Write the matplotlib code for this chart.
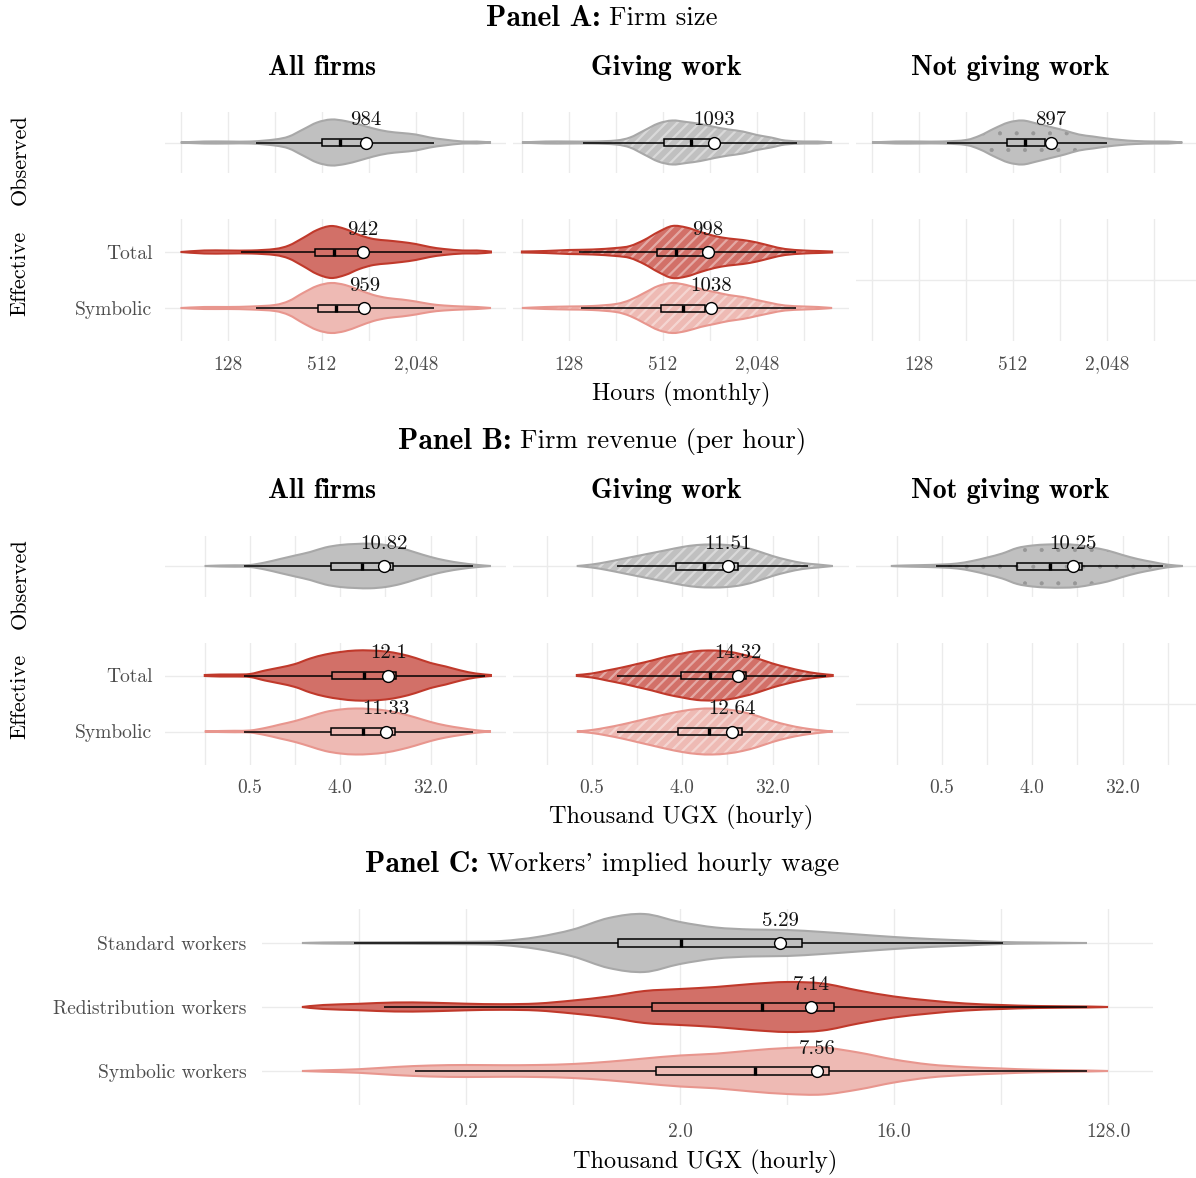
import matplotlib
matplotlib.use("Agg")
import matplotlib.pyplot as plt
import numpy as np
from matplotlib.path import Path
from matplotlib.patches import PathPatch, Rectangle
from matplotlib.ticker import NullFormatter

plt.rcParams["font.family"] = ["cmr10", "DejaVu Serif"]
plt.rcParams["mathtext.fontset"] = "cm"
plt.rcParams["axes.unicode_minus"] = False

W, H = 1196, 1178

# ---------------- data ----------------
group_names = ["All firms", "Giving work", "Not giving work"]
effective_rows = ["Total", "Symbolic"]
worker_rows = ["Standard workers", "Redistribution workers", "Symbolic workers"]

# Panel A: firm size, hours per month (density profile sampled on log2 hours)
a_grid_log2 = [6.0, 6.5, 7.0, 7.5, 8.0, 8.3, 8.6, 8.9, 9.2, 9.5, 9.8, 10.1,
               10.4, 10.7, 11.0, 11.3, 11.6, 12.0, 12.3, 12.6]
a_all_observed = [0, 1, 1, 1, 3, 6, 13, 20, 23, 21.5, 18, 14, 11, 9.5, 8, 5, 3, 1, 1, 0]
a_all_total = [0, 1.5, 1.5, 1.5, 3, 6.5, 14, 22, 26, 23, 17, 13, 11.5, 10, 8, 5, 3, 1.5, 1.5, 0.5]
a_all_symbolic = [0, 1, 1, 1.5, 3, 7, 15, 22, 25, 23, 18, 13, 10, 8.5, 6.5, 4, 2.5, 1.5, 1, 0]
a_giving_observed = [0, 1, 1, 1, 2, 5, 12, 19, 22, 20.5, 18.5, 15.5, 13, 11, 7.5, 5, 2, 1, 1, 0]
a_giving_total = [0.5, 1, 2, 2.5, 4, 6, 12, 20, 26, 24.5, 20, 16, 13.5, 12, 9.5, 6, 3, 1.5, 1, 0.5]
a_giving_symbolic = [0, 1, 1.5, 2, 4, 8, 15, 22, 25, 23, 19, 16, 13, 11, 8, 5, 2.5, 1.5, 1, 0]
a_notgiving_observed = [0, 1, 1, 1, 2.5, 7, 14, 20, 22, 19, 15.5, 12, 8, 6, 4, 2.5, 1.5, 1, 1, 0]

# box stats: lower whisker, Q1, median, Q3, upper whisker (hours)
a_box_all = [[194, 515, 671, 923, 2680], [155, 465, 614, 891, 3020], [194, 485, 630, 904, 2680]]
a_box_giving = [[157, 519, 776, 1024, 3690], [148, 468, 621, 923, 3640], [153, 498, 690, 949, 3640]]
a_box_notgiving = [[194, 468, 613, 822, 2048]]
a_mean_all = [984, 942, 959]
a_mean_giving = [1093, 998, 1038]
a_mean_notgiving = [897]
a_ticks = [128, 512, 2048]
a_minor = [64, 256, 1024, 4096]

# Panel B: firm revenue per hour, thousand UGX (log2 scale)
nan = np.nan
b_grid_log2 = [-2.7, -2.5, -2.0, -1.5, -1.0, -0.5, 0.0, 0.5, 1.0, 1.5, 2.0,
               2.5, 3.0, 3.5, 4.0, 4.5, 5.0, 5.5, 6.0, 6.5, 7.0]
b_all_observed = [nan, 0, 0.5, 0.7, 1, 3.5, 7, 10.5, 14, 18.5, 21, 22, 22.3, 21, 18, 13.5, 9, 5.5, 3, 1.2, 0]
b_all_total = [nan, 0.5, 1, 1, 1.5, 5, 8, 11.5, 17, 21, 23.5, 25, 25, 24, 21.5, 17.5, 12.5, 9, 5, 2, 0.5]
b_all_symbolic = [nan, 0, 0.5, 0.7, 1, 3.5, 7, 10.5, 15, 19.5, 22, 23, 22.5, 21, 18, 14, 9.5, 6, 3.5, 1.3, 0]
b_giving_observed = [nan, nan, nan, 0, 1.5, 4, 7, 10, 13, 16, 19, 21, 21.5, 21, 19, 15, 10, 6, 3, 1.5, 0]
b_giving_total = [nan, nan, nan, 0.5, 2, 5, 8, 11.5, 15, 19, 22, 24.5, 25, 24, 21, 17, 12, 8, 4.5, 2, 0.5]
b_giving_symbolic = [nan, nan, nan, 0, 1.5, 4, 7, 10.5, 14, 17.5, 20.5, 22.5, 23, 22, 19.5, 15.5, 10.5, 6.5, 3.5, 1.5, 0]
b_notgiving_observed = [0, 0.3, 0.7, 1, 1.5, 2.5, 5, 8.5, 12.5, 18, 20.5, 21.5, 21.7, 21, 18.5, 15.5, 11, 7, 4, 1.3, 0]

b_box_all = [[0.435, 3.23, 6.6, 13.5, 85], [0.435, 3.3, 6.9, 14.4, 112], [0.435, 3.23, 6.7, 14.1, 85]]
b_box_giving = [[0.89, 3.46, 6.6, 14.4, 72.5], [0.89, 3.9, 7.6, 17.4, 109], [0.89, 3.63, 7.4, 15.8, 77.7]]
b_box_notgiving = [[0.435, 2.8, 6.0, 12.5, 81]]
b_mean_all = [10.82, 12.1, 11.33]
b_mean_giving = [11.51, 14.32, 12.64]
b_mean_notgiving = [10.25]
b_ticks = [0.5, 4, 32]
b_minor = [0.177, 1.414, 11.31, 90.5]

# Panel C: workers' implied hourly wage, thousand UGX
c_grid_log2 = [-4.3, -4.0, -3.5, -3.0, -2.5, -2.0, -1.5, -1.0, -0.5, 0.0, 0.5, 1.0,
               1.5, 2.0, 2.5, 3.0, 3.5, 4.0, 4.5, 5.0, 5.5, 6.0, 6.7, 7.0]
c_standard = [0, 0.5, 0.7, 0.8, 1, 1.2, 2, 6, 13.5, 25, 29, 21, 15.5, 13.5, 13, 11, 8.5, 6, 4, 2.5, 1, 0.5, 0, nan]
c_redistribution = [0, 2, 3.2, 4.5, 4.3, 3.3, 2.8, 3.5, 6.5, 10.5, 16, 18, 20, 23, 25, 23.5, 16.5, 10.5, 6.5, 3.5, 2, 1, 0.5, 0]
c_symbolic = [0, 0.7, 1.8, 4, 5.5, 6, 5.8, 6, 7, 9.3, 12.5, 15.5, 17.3, 20.5, 23, 23.5, 18.5, 11.5, 6.5, 4, 2.5, 1.3, 0.5, 0]
c_box = [[0.084, 1.09, 2.02, 6.54, 46], [0.113, 1.52, 4.44, 8.94, 104], [0.152, 1.58, 4.14, 8.5, 104]]
c_mean = [5.29, 7.14, 7.56]
c_ticks = [0.25, 2, 16, 128]
c_minor = [0.0884, 0.707, 5.66, 45.25]

# ---------------- styles ----------------
FILL = {"obs": "#C0C0C0", "total": "#D27068", "symb": "#EEBAB4"}
EDGE = {"obs": "#A8A8A8", "total": "#C0392B", "symb": "#E8968E"}
GRID = "#EBEBEB"
TICK = "#4D4D4D"
TITLE_SIZE = 20
TICK_SIZE = 14
LABEL_SIZE = 17.5

fig = plt.figure(figsize=(W / 100, H / 100), dpi=100)


def px_axes(left, top, right, bottom):
    return fig.add_axes([left / W, 1 - bottom / H, (right - left) / W, (bottom - top) / H])


def smooth_curve(xs, ys):
    pts = np.column_stack([xs, ys])
    n = len(pts)
    verts = []
    for i in range(n - 1):
        p0 = pts[max(i - 1, 0)]
        p1, p2 = pts[i], pts[i + 1]
        p3 = pts[min(i + 2, n - 1)]
        verts += [p1 + (p2 - p0) / 6, p2 - (p3 - p1) / 6, p2]
    return pts[0], np.array(verts)


def violin(ax, grid_log2, dens, ypos, scale, kind, hatch=None, hatch_color=None, hatch_lw=1.0):
    g = np.asarray(grid_log2, float)
    d = np.asarray(dens, float)
    keep = ~np.isnan(d)
    g, d = g[keep], d[keep] * scale
    start, upper = smooth_curve(g, ypos - d)
    start_lo, lower = smooth_curve(g[::-1], (ypos + d)[::-1])
    verts = np.vstack([start, upper, start_lo, lower, start])
    codes = ([Path.MOVETO] + [Path.CURVE4] * len(upper) + [Path.LINETO]
             + [Path.CURVE4] * len(lower) + [Path.CLOSEPOLY])
    verts[:, 0] = 2.0 ** verts[:, 0]
    path = Path(verts, codes)
    ax.add_patch(PathPatch(path, facecolor=FILL[kind], edgecolor="none", zorder=2))
    if hatch:
        with plt.rc_context({"hatch.linewidth": hatch_lw}):
            ax.add_patch(PathPatch(path, facecolor="none", edgecolor=hatch_color, lw=0,
                                   hatch=hatch, zorder=2.1))
    ax.add_patch(PathPatch(path, facecolor="none", edgecolor=EDGE[kind], lw=1.5, zorder=2.2))


def box(ax, stats, mean, ypos, half_h):
    lo, q1, med, q3, hi = stats
    ax.plot([lo, q1], [ypos, ypos], color="black", lw=1.1, zorder=3, solid_capstyle="butt")
    ax.plot([q3, hi], [ypos, ypos], color="black", lw=1.1, zorder=3, solid_capstyle="butt")
    ax.add_patch(Rectangle((q1, ypos - half_h), q3 - q1, 2 * half_h, facecolor="none",
                           edgecolor="black", lw=1.1, zorder=3))
    ax.plot([med, med], [ypos - half_h, ypos + half_h], color="black", lw=2.4, zorder=3,
            solid_capstyle="butt")
    ax.plot([mean], [ypos], "o", ms=8.5, mfc="white", mec="black", mew=1.0, zorder=4)
    ax.annotate(f"{mean:g}", (mean, ypos), xytext=(0, 16), textcoords="offset points",
                ha="center", va="center", fontsize=15, color="#111111", zorder=5)


def style_axis(ax, xlim_log2, ticks, minor, fmt, ylim, yticks, ylabels, show_x):
    ax.set_xscale("log", base=2)
    ax.set_xlim(2.0 ** xlim_log2[0], 2.0 ** xlim_log2[1])
    ax.set_xticks(ticks)
    ax.set_xticklabels([fmt(t) for t in ticks] if show_x else [])
    ax.set_xticks(minor, minor=True)
    ax.xaxis.set_minor_formatter(NullFormatter())
    ax.set_ylim(*ylim)
    ax.set_yticks(yticks)
    ax.set_yticklabels(ylabels)
    ax.grid(True, which="both", axis="x", color=GRID, lw=1.0)
    ax.grid(True, which="major", axis="y", color=GRID, lw=1.0)
    ax.set_axisbelow(True)
    for s in ax.spines.values():
        s.set_visible(False)
    ax.tick_params(which="both", length=0, labelsize=TICK_SIZE, labelcolor=TICK)
    ax.tick_params(axis="x", pad=10.5)
    ax.tick_params(axis="y", pad=9)


def fig_text(x, y, s, **kw):
    return fig.text(x / W, 1 - y / H, s, ha="center", va="center", **kw)


def panel_title(xc, y, bold, rest):
    # bold lead-in followed by the regular title text, centred as one line
    renderer = fig.canvas.get_renderer()
    t1 = fig.text(0, 1 - y / H, bold, fontfamily="cmb10", fontsize=21.5,
                  ha="left", va="center")
    t2 = fig.text(0, 1 - y / H, rest, fontsize=19.3, ha="left", va="center")
    w1 = t1.get_window_extent(renderer).width
    w2 = t2.get_window_extent(renderer).width
    gap = 8
    left = xc - (w1 + gap + w2) / 2
    t1.set_x(left / W)
    t2.set_x((left + w1 + gap) / W)


cols_x = [(165, 506), (513, 849), (856, 1196)]
col_title_x = [322, 666, 1010]
UNIT = 56.0  # pixels per row in panels A and B


def firm_panel(y0, grid, series, boxes, means, xlims, ticks, minor, fmt, title, xlabel):
    panel_title(602, y0 + 18, title[0], title[1])
    for cx, name in zip(col_title_x, group_names):
        fig_text(cx, y0 + 68, name, fontfamily="cmb10", fontsize=TITLE_SIZE)
    obs_top, obs_bot = y0 + 112, y0 + 173
    eff_top, eff_bot = y0 + 219, y0 + 341
    fig_text(20, y0 + 160, "Observed", rotation=90, fontsize=16)
    fig_text(20, y0 + 273, "Effective", rotation=90, fontsize=16)
    kinds = ["obs", "total", "symb"]
    for c, (x0, x1) in enumerate(cols_x):
        hatch, hcol, hlw = None, None, 1.0
        if c == 1:
            hatch, hcol, hlw = "///", (1, 1, 1, 0.4), 1.6
        elif c == 2:
            hatch, hcol, hlw = ".", "#979797", 0.5
        half = (obs_bot - obs_top) / 2 / UNIT
        ax_o = px_axes(x0, obs_top, x1, obs_bot)
        style_axis(ax_o, xlims[c], ticks, minor, fmt, (1 + half, 1 - half), [1], [""], False)
        violin(ax_o, grid, series[c][0], 1, 1 / UNIT, "obs", hatch, hcol, hlw)
        box(ax_o, boxes[c][0], means[c][0], 1, 3.5 / UNIT)

        half = (eff_bot - eff_top - UNIT) / 2 / UNIT
        ax_e = px_axes(x0, eff_top, x1, eff_bot)
        if c < 2:
            style_axis(ax_e, xlims[c], ticks, minor, fmt, (2 + half, 1 - half), [1, 2],
                       effective_rows if c == 0 else ["", ""], True)
            for r in (1, 2):
                violin(ax_e, grid, series[c][r], r, 1 / UNIT, kinds[r], hatch, hcol, hlw)
                box(ax_e, boxes[c][r], means[c][r], r, 3.5 / UNIT)
        else:
            style_axis(ax_e, xlims[c], ticks, minor, fmt, (2 + half, 1 - half), [1.5], [""], True)
    fig_text(681, y0 + 394, xlabel, fontsize=LABEL_SIZE)


firm_panel(0, a_grid_log2,
           [[a_all_observed, a_all_total, a_all_symbolic],
            [a_giving_observed, a_giving_total, a_giving_symbolic],
            [a_notgiving_observed]],
           [a_box_all, a_box_giving, a_box_notgiving],
           [a_mean_all, a_mean_giving, a_mean_notgiving],
           [(5.666, 12.92), (5.81, 12.96), (5.66, 12.89)],
           a_ticks, a_minor, lambda v: f"{v:,}",
           ("Panel A:", "Firm size"), "Hours (monthly)")

firm_panel(423.5, b_grid_log2,
           [[b_all_observed, b_all_total, b_all_symbolic],
            [b_giving_observed, b_giving_total, b_giving_symbolic],
            [b_notgiving_observed]],
           [b_box_all, b_box_giving, b_box_notgiving],
           [b_mean_all, b_mean_giving, b_mean_notgiving],
           [(-3.82, 7.5), (-3.62, 7.54), (-3.86, 7.44)],
           b_ticks, b_minor, lambda v: f"{v:.1f}",
           ("Panel B:", "Firm revenue (per hour)"), "Thousand UGX (hourly)")

# Panel C
panel_title(602, 864, "Panel C:", "Workers' implied hourly wage")
UNIT_C = 64.0
ax_c = px_axes(262, 909, 1153, 1105)
half = (1105 - 909 - 2 * UNIT_C) / 2 / UNIT_C
style_axis(ax_c, (-4.86, 7.63), c_ticks, c_minor, lambda v: f"{v:.1f}",
           (3 + half, 1 - half), [1, 2, 3], worker_rows, True)
ax_c.tick_params(axis="x", pad=13)
ax_c.tick_params(axis="y", pad=11)
for r, (dens, kind) in enumerate(zip([c_standard, c_redistribution, c_symbolic],
                                     ["obs", "total", "symb"]), start=1):
    violin(ax_c, c_grid_log2, dens, r, 1 / UNIT_C, kind)
    box(ax_c, c_box[r - 1], c_mean[r - 1], r, 4 / UNIT_C)
fig_text(705, 1162, "Thousand UGX (hourly)", fontsize=LABEL_SIZE)

fig.savefig("out.png", dpi=100, facecolor="white")
